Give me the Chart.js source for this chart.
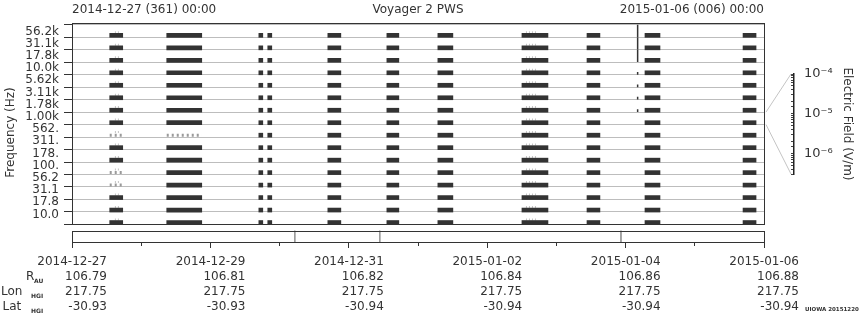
<!DOCTYPE html>
<html>
<head>
<meta charset="utf-8">
<title>Voyager 2 PWS 2014-12-27</title>
<script src="https://cdn.jsdelivr.net/npm/chart.js@4"></script>
<style>
  body { margin: 0; background: #fff; }
  #wrap { position: relative; width: 860px; height: 320px; }
  #cb { position: absolute; left: 760px; top: 50px; }
</style>
</head>
<body>
<div id="wrap">
  <canvas id="main" width="860" height="320"></canvas>
  <canvas id="cb" width="100" height="150"></canvas>
</div>
<script>
// frequency channels, top to bottom
const freqLabels = ['56.2k', '31.1k', '17.8k', '10.0k', '5.62k', '3.11k', '1.78k', '1.00k',
                    '562.', '311.', '178.', '100.', '56.2', '31.1', '17.8', '10.0'];

// observation blocks, in days after 2014-12-27 00:00
const blockStart = [0.545, 1.369, 2.700, 2.829, 3.697, 4.550, 5.287, 6.502, 7.442, 8.280, 9.697];
const blockEnd   = [0.733, 1.875, 2.757, 2.887, 3.885, 4.723, 5.504, 6.878, 7.629, 8.497, 9.885];

// weak (dotted) cells: [channel from top, block]
const weakCells = [[8, 0], [8, 1], [11, 0], [12, 0]];

// faint speckle just above some blocks
const speckleStart = [0.620, 6.560];
const speckleEnd   = [0.700, 6.730];

// one strong spectrum column
const spikeDay = 8.174;
const spikeFullRows = [0, 1, 2];
const spikeLowRows = [3, 4, 5, 6];

// marks in the strip under the plot
const stripDays = [3.220, 4.448, 7.933];

// bottom axis
const dateLabels = ['2014-12-27', '2014-12-29', '2014-12-31', '2015-01-02', '2015-01-04', '2015-01-06'];
const rAU    = ['106.79', '106.81', '106.82', '106.84', '106.86', '106.88'];
const lonHGI = ['217.75', '217.75', '217.75', '217.75', '217.75', '217.75'];
const latHGI = ['-30.93', '-30.93', '-30.94', '-30.94', '-30.94', '-30.94'];

const headerLabels = ['2014-12-27 (361) 00:00', 'Voyager 2 PWS', '2015-01-06 (006) 00:00'];

// electric field colour bar
const efTicks = [1e-6, 1e-5, 1e-4];
const efLabels = ['10\u207B\u2076', '10\u207B\u2075', '10\u207B\u2074'];

Chart.defaults.font.family = "'DejaVu Sans', sans-serif";
Chart.defaults.font.size = 12;
Chart.defaults.color = '#333';
Chart.defaults.animation = false;

const nCh = freqLabels.length;
const rowOf = t => nCh - 1 - t;   // channel from top -> y unit from bottom

// build the chart tables
const gap = { x: null, y: null };
const cells = [];
const weak = [];
for (let t = 0; t < nCh; t++) {
  for (let b = 0; b < blockStart.length; b++) {
    if (weakCells.some(w => w[0] === t && w[1] === b)) {
      weak.push({ x: blockStart[b], y: rowOf(t) + 0.15 }, { x: blockEnd[b], y: rowOf(t) + 0.15 }, gap);
    } else {
      cells.push({ x: [blockStart[b], blockEnd[b]], y: rowOf(t) + 0.15 });
    }
  }
}
const speckle = [];
for (let t = 0; t < nCh; t++) {
  for (let s = 0; s < speckleStart.length; s++) {
    speckle.push({ x: speckleStart[s], y: rowOf(t) + 0.4 }, { x: speckleEnd[s], y: rowOf(t) + 0.4 }, gap);
  }
}
const spike = [];
spikeFullRows.forEach(t => spike.push({ x: spikeDay, y: rowOf(t) + 1 }, { x: spikeDay, y: rowOf(t) + 0.02 }, gap));
spikeLowRows.forEach(t => spike.push({ x: spikeDay, y: rowOf(t) + 0.22 }, { x: spikeDay, y: rowOf(t) }, gap));
const strip = [];
stripDays.forEach(d => strip.push({ x: d, y: -0.505 }, { x: d, y: -1.41 }, gap));

const yTickVals = [];
for (let i = 0; i <= nCh; i++) yTickVals.push(i);
const labelVals = freqLabels.map((l, t) => 15.455 - t * 0.977);

const framePlugin = {
  id: 'frame',
  afterDatasetsDraw(chart) {
    const { ctx, chartArea: a, scales: { y } } = chart;
    ctx.save();
    ctx.strokeStyle = '#333';
    ctx.lineWidth = 1;
    const y0 = Math.round(y.getPixelForValue(0)) + 0.5;
    ctx.strokeRect(a.left + 0.5, a.top + 0.5, a.right - a.left, y0 - a.top - 0.5);
    const s0 = Math.round(y.getPixelForValue(-0.505)) + 0.5;
    ctx.strokeRect(a.left + 0.5, s0, a.right - a.left, a.bottom - s0 + 0.5);
    ctx.restore();
  },
  afterDraw(chart) {
    const { ctx, scales: { x } } = chart;
    const base = x.top + 6 + 6 + 7.5;
    const rows = [['R', 'AU', 26, 34], ['Lon', 'HGI', 1, 31], ['Lat', 'HGI', 2.5, 31]];
    ctx.save();
    ctx.fillStyle = '#333';
    ctx.textBaseline = 'middle';
    ctx.textAlign = 'left';
    rows.forEach((r, k) => {
      const yy = base + 15 * (k + 1);
      ctx.font = "12px 'DejaVu Sans'";
      ctx.fillText(r[0], r[2], yy);
      ctx.font = "bold 6px 'DejaVu Sans'";
      ctx.fillText(r[1], r[3], yy + 5);
    });
    ctx.font = "bold 5.5px 'DejaVu Sans'";
    ctx.fillText('UIOWA 20151220', 805, 310);
    ctx.restore();
  }
};

const mainChart = new Chart(document.getElementById('main'), {
  type: 'bar',
  data: {
    datasets: [
      {
        type: 'bar', data: cells, xAxisID: 'x', yAxisID: 'y',
        backgroundColor: '#333', borderWidth: 0, barThickness: 4
      },
      {
        type: 'line', data: weak, xAxisID: 'x', yAxisID: 'y',
        borderColor: '#9a9a9a', borderWidth: 3, borderDash: [2, 3], pointRadius: 0, spanGaps: false
      },
      {
        type: 'line', data: speckle, xAxisID: 'x', yAxisID: 'y',
        borderColor: '#c4c4c4', borderWidth: 2, borderDash: [1, 2], pointRadius: 0, spanGaps: false
      },
      {
        type: 'line', data: spike, xAxisID: 'x', yAxisID: 'y',
        borderColor: '#333', borderWidth: 1.5, pointRadius: 0, spanGaps: false
      },
      {
        type: 'line', data: strip, xAxisID: 'x', yAxisID: 'y',
        borderColor: '#999', borderWidth: 1, pointRadius: 0, spanGaps: false
      }
    ]
  },
  options: {
    indexAxis: 'y',
    responsive: false,
    layout: { padding: { left: 0, right: 96, top: 0, bottom: 0 } },
    plugins: { legend: { display: false }, tooltip: { enabled: false } },
    scales: {
      x: {
        type: 'linear', position: 'bottom', min: 0, max: 10,
        border: { display: false },
        grid: {
          drawOnChartArea: false, tickLength: 6, tickColor: '#333',
          tickBorderDash: c => (c.index % 2 ? [4, 20] : [])
        },
        ticks: {
          stepSize: 1, autoSkip: false, maxRotation: 0, minRotation: 0,
          align: 'end', labelOffset: 35, padding: 6,
          font: { size: 12, lineHeight: 1.25 },
          callback: (v, i) => (i % 2 ? '' : [dateLabels[i / 2], rAU[i / 2], lonHGI[i / 2], latHGI[i / 2]])
        },
        afterFit: s => { s.height = 78; s.paddingLeft = 0; s.paddingRight = 0; }
      },
      xTop: {
        type: 'linear', axis: 'x', position: 'top', min: 0, max: 10,
        border: { display: false },
        grid: { display: false, drawTicks: false },
        afterBuildTicks: s => { s.ticks = [0, 5, 10].map(v => ({ value: v })); },
        ticks: {
          autoSkip: false, maxRotation: 0, align: 'inner', padding: 6,
          callback: (v, i) => headerLabels[i]
        },
        afterFit: s => { s.height = 23; }
      },
      y: {
        type: 'linear', position: 'left', min: -1.41, max: 16.14,
        offset: false,
        border: { display: false },
        grid: {
          offset: false, tickLength: 8,
          color: c => (Number.isInteger(c.tick.value) ? '#bdbdbd' : 'rgba(0,0,0,0)'),
          tickColor: c => (Number.isInteger(c.tick.value) ? '#333' : 'rgba(0,0,0,0)')
        },
        afterBuildTicks: s => {
          s.ticks = yTickVals.concat(labelVals).map(v => ({ value: v }));
        },
        ticks: {
          autoSkip: false, padding: 5,
          callback: (v, i) => (i <= nCh ? '' : freqLabels[i - nCh - 1])
        },
        title: { display: true, text: 'Frequency (Hz)', padding: { top: 4, bottom: 0 } },
        afterFit: s => { s.width = 72; }
      }
    }
  },
  plugins: [framePlugin]
});

// lines from the zoomed channel to the colour bar
const zoomChannel = 8;
const connectorPlugin = {
  id: 'connector',
  afterDraw(chart) {
    const { ctx, chartArea: a } = chart;
    const m = mainChart;
    const xr = m.chartArea.right + 2 - 760;
    ctx.save();
    ctx.strokeStyle = '#c4c4c4';
    ctx.lineWidth = 1;
    ctx.beginPath();
    ctx.moveTo(xr, m.scales.y.getPixelForValue(zoomChannel + 1) - 50);
    ctx.lineTo(a.left, a.top);
    ctx.moveTo(xr, m.scales.y.getPixelForValue(zoomChannel) - 50);
    ctx.lineTo(a.left, a.bottom);
    ctx.stroke();
    ctx.restore();
  }
};

new Chart(document.getElementById('cb'), {
  type: 'scatter',
  data: { datasets: [] },
  options: {
    responsive: false,
    layout: { padding: { left: 31, top: 24, bottom: 26, right: 0 } },
    plugins: { legend: { display: false }, tooltip: { enabled: false } },
    scales: {
      x: { display: false },
      y: {
        type: 'logarithmic', position: 'right', min: 3e-7, max: 1e-4,
        border: { display: true, color: '#222', width: 1.5 },
        grid: { color: '#444', drawTicks: false },
        ticks: {
          autoSkip: false, padding: 10, font: { size: 13 },
          callback: v => {
            const k = efTicks.findIndex(t => Math.abs(t - v) / t < 1e-6);
            return k < 0 ? '' : efLabels[k];
          }
        },
        title: { display: true, text: 'Electric Field (V/m)', padding: { top: 6, bottom: 0 } },
        afterFit: s => { s.width = 66; }
      }
    }
  },
  plugins: [connectorPlugin]
});
</script>
</body>
</html>
